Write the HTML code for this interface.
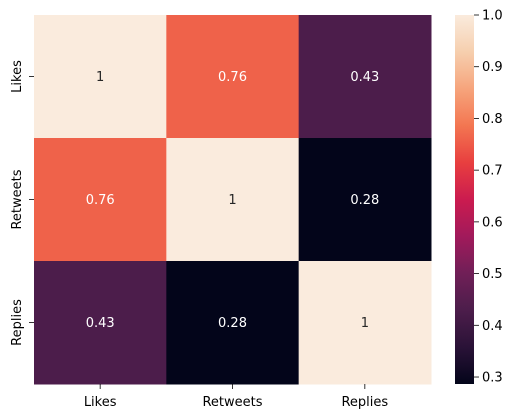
<!DOCTYPE html>
<html><head><meta charset="utf-8">
<style>
html,body{margin:0;padding:0;background:#fff;}
svg{display:block;font-family:"DejaVu Sans","Liberation Sans",sans-serif;}
</style></head>
<body>
<svg id="chart" width="515" height="418" viewBox="0 0 515 418" xmlns="http://www.w3.org/2000/svg"></svg>
<script>
const categories = ["Likes","Retweets","Replies"];
const row0 = [1, 0.76, 0.43];
const row1 = [0.76, 1, 0.28];
const row2 = [0.43, 0.28, 1];
const annotLabels = [["1","0.76","0.43"],["0.76","1","0.28"],["0.43","0.28","1"]];
const cbTicks = [0.3,0.4,0.5,0.6,0.7,0.8,0.9,1.0];
const cbTickLabels = ["0.3","0.4","0.5","0.6","0.7","0.8","0.9","1.0"];
const vmin = 0.2865, vmax = 1.0;

const rows = [row0,row1,row2];
const NS = "http://www.w3.org/2000/svg";
const svg = document.getElementById("chart");
const X0=34, X1=431, Y0=15, Y1=384;
const CB0=455, CB1=474;
const stops = ["#03051a","#2a1237","#4c1d4b","#701f57","#a11a5b","#cb1b4f","#e83f3f","#f37651","#f6a47c","#f6cfae","#faebdd"];
function hex(h){return [parseInt(h.slice(1,3),16),parseInt(h.slice(3,5),16),parseInt(h.slice(5,7),16)];}
function cmap(t){t=Math.max(0,Math.min(1,t));const p=t*(stops.length-1);const i=Math.min(stops.length-2,Math.floor(p));const f=p-i;const a=hex(stops[i]),b=hex(stops[i+1]);return "rgb("+a.map((v,k)=>Math.round(v+(b[k]-v)*f)).join(",")+")";}
function norm(v){return (v-vmin)/(vmax-vmin);}
const cw=(X1-X0)/categories.length, ch=(Y1-Y0)/categories.length;
function xPos(i){return X0+i*cw;}
function yPos(j){return Y0+j*ch;}
function cbY(v){return Y1-(v-vmin)/(vmax-vmin)*(Y1-Y0);}
function mk(tag,attrs){const e=document.createElementNS(NS,tag);for(const k in attrs)e.setAttribute(k,attrs[k]);svg.appendChild(e);return e;}

rows.forEach((r,j)=>{r.forEach((v,i)=>{
  const rc=mk("rect",{x:xPos(i),y:yPos(j),width:cw+0.5,height:ch+0.5,fill:cmap(norm(v))});
  
  
  const t=mk("text",{x:xPos(i)+cw/2,y:yPos(j)+ch/2+4.5,"text-anchor":"middle","font-size":"13",fill:norm(v)>0.82?"#262626":"#ffffff"});
  t.textContent=annotLabels[j][i];
  
  
});});

categories.forEach((c,i)=>{
  const cx=xPos(i)+cw/2;
  mk("line",{x1:cx,x2:cx,y1:Y1,y2:Y1+5,stroke:"#000","stroke-width":"0.8"});
  const t=mk("text",{x:cx,y:Y1+22,"text-anchor":"middle","font-size":"13",fill:"#000"});
  t.textContent=c;
  
  
  const cy=yPos(i)+ch/2;
  mk("line",{x1:X0-5,x2:X0,y1:cy,y2:cy,stroke:"#000","stroke-width":"0.8"});
  const ty=mk("text",{x:0,y:0,"text-anchor":"middle","font-size":"13",fill:"#000",transform:"translate(21,"+cy+") rotate(-90)"});
  ty.textContent=c;
  
  
});

const defs=mk("defs",{});
const lg=document.createElementNS(NS,"linearGradient");
lg.setAttribute("id","cbg");lg.setAttribute("x1","0");lg.setAttribute("y1","1");lg.setAttribute("x2","0");lg.setAttribute("y2","0");
for(let k=0;k<=40;k++){const s=document.createElementNS(NS,"stop");s.setAttribute("offset",k/40);s.setAttribute("stop-color",cmap(k/40));lg.appendChild(s);}
defs.appendChild(lg);
const cb=mk("rect",{x:CB0,y:Y0,width:CB1-CB0,height:Y1-Y0,fill:"url(#cbg)"});


cbTicks.forEach((v,k)=>{
  const y=cbY(v);
  mk("line",{x1:CB1,x2:CB1+5,y1:y,y2:y,stroke:"#000","stroke-width":"0.8"});
  const t=mk("text",{x:CB1+8,y:y+4.5,"font-size":"13",fill:"#000"});
  t.textContent=cbTickLabels[k];
  
  
});
</script>
</body></html>
